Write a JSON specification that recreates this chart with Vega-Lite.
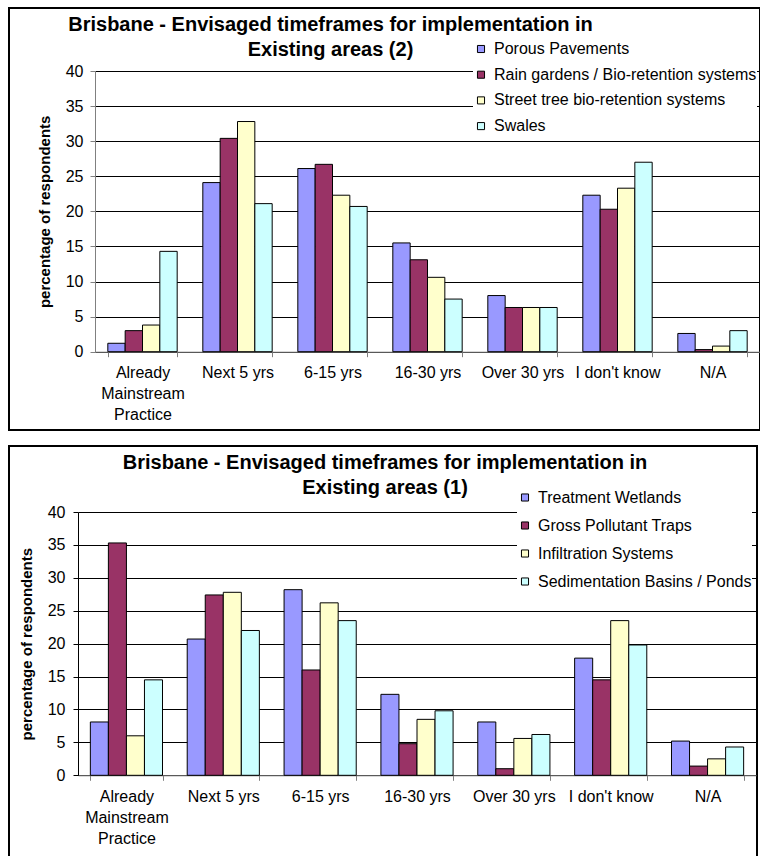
{
  "$schema": "https://vega.github.io/schema/vega-lite/v6.json",
  "padding": {"left": 8, "top": 7, "right": 0, "bottom": 0},
  "background": "white",
  "spacing": 14,
  "config": {
    "font": "Liberation Sans",
    "view": {"stroke": "black", "strokeWidth": 2},
    "axis": {"labelFont": "Liberation Sans", "titleFont": "Liberation Sans", "labelColor": "black", "titleColor": "black"},
    "legend": {"labelFont": "Liberation Sans"},
    "title": {"font": "Liberation Sans"}
  },
  "datasets": {
    "top": [
      {"timeframe": "Already Mainstream Practice", "series": "Porous Pavements", "value": 1.2},
      {"timeframe": "Already Mainstream Practice", "series": "Rain gardens / Bio-retention systems", "value": 3.0},
      {"timeframe": "Already Mainstream Practice", "series": "Street tree bio-retention systems", "value": 3.8},
      {"timeframe": "Already Mainstream Practice", "series": "Swales", "value": 14.3},
      {"timeframe": "Next 5 yrs", "series": "Porous Pavements", "value": 24.1},
      {"timeframe": "Next 5 yrs", "series": "Rain gardens / Bio-retention systems", "value": 30.4},
      {"timeframe": "Next 5 yrs", "series": "Street tree bio-retention systems", "value": 32.8},
      {"timeframe": "Next 5 yrs", "series": "Swales", "value": 21.1},
      {"timeframe": "6-15 yrs", "series": "Porous Pavements", "value": 26.1},
      {"timeframe": "6-15 yrs", "series": "Rain gardens / Bio-retention systems", "value": 26.7},
      {"timeframe": "6-15 yrs", "series": "Street tree bio-retention systems", "value": 22.3},
      {"timeframe": "6-15 yrs", "series": "Swales", "value": 20.7},
      {"timeframe": "16-30 yrs", "series": "Porous Pavements", "value": 15.5},
      {"timeframe": "16-30 yrs", "series": "Rain gardens / Bio-retention systems", "value": 13.1},
      {"timeframe": "16-30 yrs", "series": "Street tree bio-retention systems", "value": 10.6},
      {"timeframe": "16-30 yrs", "series": "Swales", "value": 7.5},
      {"timeframe": "Over 30 yrs", "series": "Porous Pavements", "value": 8.0},
      {"timeframe": "Over 30 yrs", "series": "Rain gardens / Bio-retention systems", "value": 6.3},
      {"timeframe": "Over 30 yrs", "series": "Street tree bio-retention systems", "value": 6.3},
      {"timeframe": "Over 30 yrs", "series": "Swales", "value": 6.3},
      {"timeframe": "I don't know", "series": "Porous Pavements", "value": 22.3},
      {"timeframe": "I don't know", "series": "Rain gardens / Bio-retention systems", "value": 20.3},
      {"timeframe": "I don't know", "series": "Street tree bio-retention systems", "value": 23.3},
      {"timeframe": "I don't know", "series": "Swales", "value": 27.0},
      {"timeframe": "N/A", "series": "Porous Pavements", "value": 2.6},
      {"timeframe": "N/A", "series": "Rain gardens / Bio-retention systems", "value": 0.3},
      {"timeframe": "N/A", "series": "Street tree bio-retention systems", "value": 0.8},
      {"timeframe": "N/A", "series": "Swales", "value": 3.0}
    ],
    "bottom": [
      {"timeframe": "Already Mainstream Practice", "series": "Treatment Wetlands", "value": 8.1},
      {"timeframe": "Already Mainstream Practice", "series": "Gross Pollutant Traps", "value": 35.3},
      {"timeframe": "Already Mainstream Practice", "series": "Infiltration Systems", "value": 6.0},
      {"timeframe": "Already Mainstream Practice", "series": "Sedimentation Basins / Ponds", "value": 14.5},
      {"timeframe": "Next 5 yrs", "series": "Treatment Wetlands", "value": 20.7},
      {"timeframe": "Next 5 yrs", "series": "Gross Pollutant Traps", "value": 27.4},
      {"timeframe": "Next 5 yrs", "series": "Infiltration Systems", "value": 27.8},
      {"timeframe": "Next 5 yrs", "series": "Sedimentation Basins / Ponds", "value": 22.0},
      {"timeframe": "6-15 yrs", "series": "Treatment Wetlands", "value": 28.2},
      {"timeframe": "6-15 yrs", "series": "Gross Pollutant Traps", "value": 16.0},
      {"timeframe": "6-15 yrs", "series": "Infiltration Systems", "value": 26.2},
      {"timeframe": "6-15 yrs", "series": "Sedimentation Basins / Ponds", "value": 23.5},
      {"timeframe": "16-30 yrs", "series": "Treatment Wetlands", "value": 12.3},
      {"timeframe": "16-30 yrs", "series": "Gross Pollutant Traps", "value": 4.8},
      {"timeframe": "16-30 yrs", "series": "Infiltration Systems", "value": 8.5},
      {"timeframe": "16-30 yrs", "series": "Sedimentation Basins / Ponds", "value": 9.8},
      {"timeframe": "Over 30 yrs", "series": "Treatment Wetlands", "value": 8.1},
      {"timeframe": "Over 30 yrs", "series": "Gross Pollutant Traps", "value": 1.0},
      {"timeframe": "Over 30 yrs", "series": "Infiltration Systems", "value": 5.6},
      {"timeframe": "Over 30 yrs", "series": "Sedimentation Basins / Ponds", "value": 6.2},
      {"timeframe": "I don't know", "series": "Treatment Wetlands", "value": 17.8},
      {"timeframe": "I don't know", "series": "Gross Pollutant Traps", "value": 14.5},
      {"timeframe": "I don't know", "series": "Infiltration Systems", "value": 23.5},
      {"timeframe": "I don't know", "series": "Sedimentation Basins / Ponds", "value": 19.8},
      {"timeframe": "N/A", "series": "Treatment Wetlands", "value": 5.2},
      {"timeframe": "N/A", "series": "Gross Pollutant Traps", "value": 1.4},
      {"timeframe": "N/A", "series": "Infiltration Systems", "value": 2.5},
      {"timeframe": "N/A", "series": "Sedimentation Basins / Ponds", "value": 4.3}
    ]
  },
  "resolve": {
    "scale": {"x": "independent", "y": "independent", "xOffset": "independent", "color": "independent"},
    "legend": {"color": "independent"}
  },
  "vconcat": [
    {
      "width": 751,
      "height": 422,
      "data": {"name": "top"},
      "title": {
        "text": ["Brisbane - Envisaged timeframes for implementation in", "Existing areas (2)"],
        "fontSize": 20,
        "fontWeight": "bold",
        "color": "black",
        "anchor": "middle",
        "baseline": "top",
        "lineHeight": 25,
        "dx": -54,
        "offset": -52
      },
      "mark": {"type": "bar", "stroke": "black", "strokeWidth": 1},
      "encoding": {
        "x": {
          "field": "timeframe",
          "type": "nominal",
          "sort": ["Already Mainstream Practice", "Next 5 yrs", "6-15 yrs", "16-30 yrs", "Over 30 yrs", "I don't know", "N/A"],
          "scale": {"range": [86, 751], "paddingInner": 0.27, "paddingOuter": 0.135},
          "axis": {
            "title": null,
            "offset": -78.3,
            "labelAngle": 0,
            "labelFontSize": 16,
            "labelPadding": 8,
            "labelLineHeight": 21,
            "labelLimit": 0,
            "labelExpr": "datum.value == 'Already Mainstream Practice' ? ['Already', 'Mainstream', 'Practice'] : datum.label",
            "domainColor": "#808080",
            "tickColor": "#808080",
            "tickSize": 5,
            "tickBand": "extent",
            "grid": false
          }
        },
        "xOffset": {
          "field": "series",
          "type": "nominal",
          "scale": {"domain": ["Porous Pavements", "Rain gardens / Bio-retention systems", "Street tree bio-retention systems", "Swales"]}
        },
        "y": {
          "field": "value",
          "type": "quantitative",
          "scale": {"domain": [0, 40], "range": [343.7, 63], "nice": false},
          "axis": {
            "title": "percentage of respondents",
            "titleFontSize": 15,
            "titleFontWeight": "bold",
            "titlePadding": 13,
            "offset": -86,
            "values": [0, 5, 10, 15, 20, 25, 30, 35, 40],
            "labelFontSize": 16,
            "labelPadding": 7,
            "domainColor": "#808080",
            "tickColor": "#808080",
            "tickSize": 5,
            "grid": true,
            "gridColor": "black",
            "gridWidth": 1,
            "gridOpacity": 1
          }
        },
        "color": {
          "field": "series",
          "type": "nominal",
          "scale": {
            "domain": ["Porous Pavements", "Rain gardens / Bio-retention systems", "Street tree bio-retention systems", "Swales"],
            "range": ["#9999FF", "#993366", "#FFFFCC", "#CCFFFF"]
          },
          "legend": {
            "title": null,
            "orient": "none",
            "legendX": 464,
            "legendY": 33,
            "fillColor": "white",
            "padding": 0,
            "symbolType": "square",
            "symbolSize": 50,
            "symbolStrokeColor": "black",
            "symbolStrokeWidth": 1,
            "symbolOpacity": 1,
            "labelFontSize": 16,
            "labelColor": "black",
            "labelOffset": 5,
            "labelLimit": 0,
            "rowPadding": 9.7
          }
        }
      }
    },
    {
      "width": 748,
      "height": 425,
      "data": {"name": "bottom"},
      "title": {
        "text": ["Brisbane - Envisaged timeframes for implementation in", "Existing areas (1)"],
        "fontSize": 20,
        "fontWeight": "bold",
        "color": "black",
        "anchor": "middle",
        "baseline": "top",
        "lineHeight": 25,
        "dx": 2,
        "offset": -51.5
      },
      "mark": {"type": "bar", "stroke": "black", "strokeWidth": 1},
      "encoding": {
        "x": {
          "field": "timeframe",
          "type": "nominal",
          "sort": ["Already Mainstream Practice", "Next 5 yrs", "6-15 yrs", "16-30 yrs", "Over 30 yrs", "I don't know", "N/A"],
          "scale": {"range": [69, 747], "paddingInner": 0.255, "paddingOuter": 0.1275},
          "axis": {
            "title": null,
            "offset": -95.7,
            "labelAngle": 0,
            "labelFontSize": 16,
            "labelPadding": 8,
            "labelLineHeight": 21,
            "labelLimit": 0,
            "labelExpr": "datum.value == 'Already Mainstream Practice' ? ['Already', 'Mainstream', 'Practice'] : datum.label",
            "domainColor": "#808080",
            "tickColor": "#808080",
            "tickSize": 5,
            "tickBand": "extent",
            "grid": false
          }
        },
        "xOffset": {
          "field": "series",
          "type": "nominal",
          "scale": {"domain": ["Treatment Wetlands", "Gross Pollutant Traps", "Infiltration Systems", "Sedimentation Basins / Ponds"]}
        },
        "y": {
          "field": "value",
          "type": "quantitative",
          "scale": {"domain": [0, 40], "range": [329.3, 66], "nice": false},
          "axis": {
            "title": "percentage of respondents",
            "titleFontSize": 15,
            "titleFontWeight": "bold",
            "titlePadding": 13,
            "offset": -69,
            "values": [0, 5, 10, 15, 20, 25, 30, 35, 40],
            "labelFontSize": 16,
            "labelPadding": 8,
            "domainColor": "black",
            "tickColor": "black",
            "tickSize": 5,
            "grid": true,
            "gridColor": "black",
            "gridWidth": 1,
            "gridOpacity": 1
          }
        },
        "color": {
          "field": "series",
          "type": "nominal",
          "scale": {
            "domain": ["Treatment Wetlands", "Gross Pollutant Traps", "Infiltration Systems", "Sedimentation Basins / Ponds"],
            "range": ["#9999FF", "#993366", "#FFFFCC", "#CCFFFF"]
          },
          "legend": {
            "title": null,
            "orient": "none",
            "legendX": 508,
            "legendY": 43.5,
            "fillColor": "white",
            "padding": 0,
            "symbolType": "square",
            "symbolSize": 50,
            "symbolStrokeColor": "black",
            "symbolStrokeWidth": 1,
            "symbolOpacity": 1,
            "labelFontSize": 16,
            "labelColor": "black",
            "labelOffset": 5,
            "labelLimit": 0,
            "rowPadding": 12
          }
        }
      }
    }
  ]
}
